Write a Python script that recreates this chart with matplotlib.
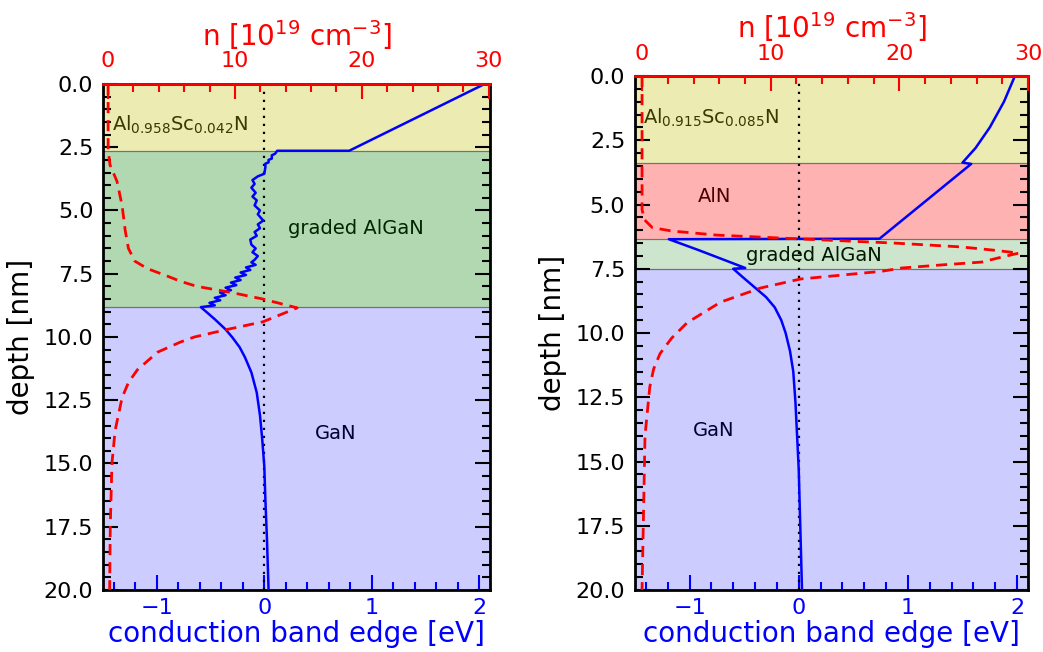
import matplotlib
matplotlib.use('Agg')
import matplotlib.pyplot as plt
from matplotlib.ticker import MultipleLocator

# ---- left structure: Al0.958Sc0.042N / graded AlGaN / GaN ----
layers_L = [(0.0, 2.64), (2.64, 8.82), (8.82, 20.0)]
layer_names_L = ['Al$_{0.958}$Sc$_{0.042}$N', 'graded AlGaN', 'GaN']

depth_cb_L = [0.0, 2.64, 2.64, 2.76, 2.82, 2.95, 3.0, 3.1, 3.15, 3.3, 3.55, 3.65,
              3.8, 3.95, 4.1, 4.3, 4.45, 4.6, 4.8, 5.0, 5.15, 5.4, 5.55, 5.7,
              5.85, 6.0, 6.15, 6.35, 6.5, 6.65, 6.8, 6.95, 7.05, 7.15, 7.25, 7.35,
              7.45, 7.55, 7.65, 7.75, 7.85, 7.95, 8.05, 8.15, 8.25, 8.35, 8.45,
              8.55, 8.65, 8.75, 8.82,
              9.3, 9.7, 10.0, 10.4, 10.8, 11.4, 12.2, 13.1, 14.0, 15.1, 16.4, 18.0, 20.0]
cb_L = [2.05, 0.79, 0.12, 0.10, 0.07, 0.07, 0.04, 0.04, 0.01, 0.01, 0.0, -0.06,
        -0.11, -0.09, -0.12, -0.08, -0.11, -0.07, -0.09, -0.04, -0.06, -0.01, -0.06, -0.04,
        -0.09, -0.07, -0.13, -0.12, -0.08, -0.11, -0.06, -0.09, -0.12, -0.08, -0.17, -0.13,
        -0.22, -0.17, -0.27, -0.22, -0.31, -0.26, -0.36, -0.31, -0.41, -0.36, -0.46,
        -0.41, -0.51, -0.46, -0.59,
        -0.46, -0.36, -0.30, -0.23, -0.18, -0.12, -0.07, -0.04, -0.02, 0.0, 0.01, 0.025, 0.04]

depth_n_L = [0.0, 2.6, 3.2, 3.85, 4.8, 5.8, 6.5, 7.0, 7.3, 7.6, 7.8, 8.0, 8.25, 8.5,
             8.85, 9.4, 9.7, 10.0, 10.2, 10.6, 11.3, 11.8, 12.4, 13.7, 15.0, 17.5, 20.0]
n_L = [0.0, 0.0, 0.15, 0.7, 1.1, 1.35, 1.6, 2.1, 3.1, 4.7, 5.7, 7.0, 9.8, 12.2,
       14.9, 12.2, 9.4, 6.8, 5.7, 3.9, 2.3, 1.6, 1.1, 0.55, 0.3, 0.17, 0.12]

# ---- right structure: Al0.915Sc0.085N / AlN / graded AlGaN / GaN ----
layers_R = [(0.0, 3.39), (3.39, 6.34), (6.34, 7.5), (7.5, 20.0)]
layer_names_R = ['Al$_{0.915}$Sc$_{0.085}$N', 'AlN', 'graded AlGaN', 'GaN']

depth_cb_R = [0.0, 1.0, 2.0, 2.8, 3.37, 3.42, 6.33, 6.35, 6.77, 7.47, 7.5,
              7.8, 8.2, 8.6, 9.0, 9.5, 10.0, 10.7, 11.5, 12.7, 15.3, 20.0]
cb_R = [1.98, 1.88, 1.75, 1.62, 1.50, 1.58, 0.74, -1.19, -0.92, -0.49, -0.60,
        -0.52, -0.41, -0.30, -0.22, -0.16, -0.12, -0.08, -0.05, -0.03, 0.0, 0.03]

depth_n_R = [0.0, 5.2, 5.6, 5.9, 6.03, 6.19, 6.34, 6.5, 6.65, 6.77, 6.89, 7.04,
             7.24, 7.35, 7.47, 7.6, 7.9, 8.25, 8.8, 9.6, 10.2, 10.8, 11.4, 12.1,
             14.0, 20.0]
n_R = [0.0, 0.0, 0.2, 0.8, 2.3, 5.8, 12.3, 19.6, 24.8, 27.2, 29.3, 28.0,
       26.4, 23.3, 20.2, 18.6, 12.3, 9.2, 6.1, 3.5, 2.3, 1.4, 0.9, 0.6,
       0.23, 0.0]

yellow = (0.75, 0.75, 0.0, 0.3)
green = (0.0, 0.5, 0.0, 0.3)
green_light = (0.0, 0.5, 0.0, 0.2)
red = (1.0, 0.0, 0.0, 0.3)
blue = (0.0, 0.0, 1.0, 0.2)


def panel(rect, layers, colors, names, name_pos, d_cb, cb, d_n, n, nlim):
    ax = fig.add_axes(rect)
    for (top, bot), c in zip(layers, colors):
        ax.axhspan(top, bot, facecolor=c, edgecolor='0.45', lw=0.8, zorder=1)
    # labels sit under the coloured layers so they pick up the tint
    for name, (x, y, ha) in zip(names, name_pos):
        ax.text(x, y, name, fontsize=14, ha=ha, va='center', color='k', zorder=0.5)
    ax.axvline(0, color='k', lw=1.6, dashes=(1, 2.6), zorder=2)
    ax.plot(cb, d_cb, color='b', lw=1.8, zorder=3)
    ax.set_xlim(-1.5, 2.1)
    ax.set_ylim(20, 0)
    ax.xaxis.set_major_locator(MultipleLocator(1))
    ax.xaxis.set_minor_locator(MultipleLocator(0.2))
    ax.yaxis.set_major_locator(MultipleLocator(2.5))
    ax.yaxis.set_minor_locator(MultipleLocator(0.5))
    ax.tick_params(axis='y', which='both', direction='in', left=True, right=True,
                   labelsize=16, width=1.5, pad=7)
    ax.tick_params(axis='y', which='major', length=11)
    ax.tick_params(axis='y', which='minor', length=6)
    ax.tick_params(axis='x', which='both', direction='in', colors='b',
                   labelsize=16, width=1.5, pad=6)
    ax.tick_params(axis='x', which='major', length=11)
    ax.tick_params(axis='x', which='minor', length=6)
    ax.set_xlabel('conduction band edge [eV]', color='b', fontsize=20, labelpad=1)
    ax.set_ylabel('depth [nm]', fontsize=20, labelpad=6)
    for s in ax.spines.values():
        s.set_linewidth(2)

    ax2 = ax.twiny()
    ax2.plot(n, d_n, color='r', lw=2, dashes=(4, 2.5), zorder=3)
    ax2.set_xlim(*nlim)
    ax2.set_ylim(20, 0)
    ax2.xaxis.set_major_locator(MultipleLocator(10))
    ax2.xaxis.set_minor_locator(MultipleLocator(2))
    ax2.tick_params(axis='x', which='both', direction='in', colors='r',
                    labelsize=16, width=1.5, pad=9)
    ax2.tick_params(axis='x', which='major', length=11)
    ax2.tick_params(axis='x', which='minor', length=6)
    ax2.set_xlabel('n [10$^{19}$ cm$^{-3}$]', color='r', fontsize=20, labelpad=4)
    for side, s in ax2.spines.items():
        s.set_linewidth(2)
        s.set_visible(side == 'top')
    ax2.spines['top'].set_color('r')
    return ax, ax2


fig = plt.figure(figsize=(10.43, 6.52), dpi=100)

panel([0.0988, 0.0951, 0.3710, 0.7761], layers_L, [yellow, green, blue], layer_names_L,
      [(-1.42, 1.6, 'left'), (0.85, 5.7, 'center'), (0.66, 13.8, 'center')],
      depth_cb_L, cb_L, depth_n_L, n_L, (-0.4, 30.1))

panel([0.6088, 0.0951, 0.3768, 0.7883], layers_R, [yellow, red, green_light, blue],
      layer_names_R,
      [(-1.43, 1.63, 'left'), (-0.77, 4.7, 'center'), (0.14, 6.97, 'center'),
       (-0.78, 13.8, 'center')],
      depth_cb_R, cb_R, depth_n_R, n_R, (-0.55, 30.0))

fig.savefig('out.png', dpi=100)
